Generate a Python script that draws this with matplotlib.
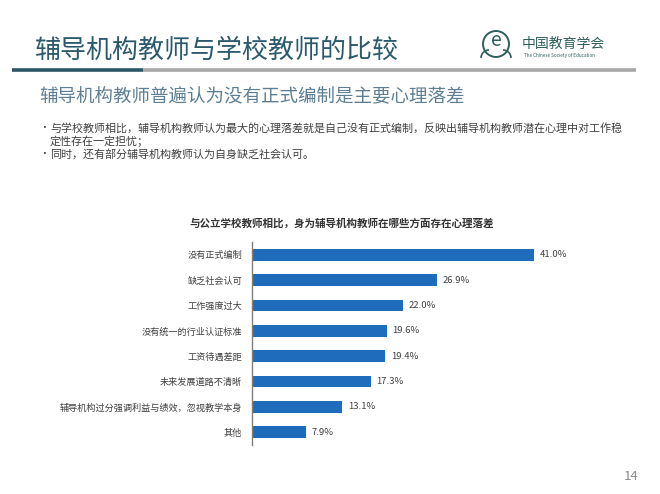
import matplotlib
matplotlib.use("Agg")
import matplotlib.pyplot as plt
from matplotlib.patches import Circle, Arc

plt.rcParams['font.family'] = ['Noto Sans CJK SC', 'DejaVu Sans']

categories = ["没有正式编制", "缺乏社会认可", "工作强度过大", "没有统一的行业认证标准",
              "工资待遇差距", "未来发展道路不清晰", "辅导机构过分强调利益与绩效，忽视教学本身", "其他"]
values = [41.0, 26.9, 22.0, 19.6, 19.4, 17.3, 13.1, 7.9]
value_labels = ["41.0%", "26.9%", "22.0%", "19.6%", "19.4%", "17.3%", "13.1%", "7.9%"]

title = "辅导机构教师与学校教师的比较"
subtitle = "辅导机构教师普遍认为没有正式编制是主要心理落差"
bullet1a = "与学校教师相比，辅导机构教师认为最大的心理落差就是自己没有正式编制，反映出辅导机构教师潜在心理中对工作稳"
bullet1b = "定性存在一定担忧；"
bullet2 = "同时，还有部分辅导机构教师认为自身缺乏社会认可。"
chart_title = "与公立学校教师相比，身为辅导机构教师在哪些方面存在心理落差"
page_no = "14"

W, H = 660, 494
fig = plt.figure(figsize=(6.6, 4.94), dpi=100)
fig.patch.set_facecolor("white")

# overlay in pixel coords
ov = fig.add_axes([0, 0, 1, 1], zorder=0)
ov.set_xlim(0, W)
ov.set_ylim(H, 0)
ov.axis("off")

title_color = "#2b5a6c"
ov.text(34, 50, title, fontsize=18.7, color=title_color, va="center", ha="left")
ov.plot([12, 143], [70, 70], color="#2e5566", lw=2.6, solid_capstyle="butt")
ov.plot([143, 636], [70, 70], color="#a8a8a8", lw=2.6, solid_capstyle="butt")
ov.text(39, 97, subtitle, fontsize=13.3, color="#5e7f93", va="center", ha="left")

txt_c = "#404040"
ov.text(39, 128, "•", fontsize=7, color=txt_c, va="center")
ov.text(50, 128, bullet1a, fontsize=7.95, color=txt_c, va="center")
ov.text(50, 141, bullet1b, fontsize=7.95, color=txt_c, va="center")
ov.text(39, 154, "•", fontsize=7, color=txt_c, va="center")
ov.text(50, 154, bullet2, fontsize=7.95, color=txt_c, va="center")

ov.text(342, 223, chart_title, fontsize=7.6, fontweight="bold", color="#333333",
        va="center", ha="center")

ov.text(631, 476, page_no, fontsize=9.5, color="#8a8a8a", va="center", ha="center")

# logo
logo_c = "#2f5e5c"
ov.add_patch(Circle((496, 44), 13, fill=False, ec=logo_c, lw=1.4))
ov.text(496, 41, "e", fontsize=14, color=logo_c, ha="center", va="center", style="italic")
ov.add_patch(Arc((489, 58), 16, 16, theta1=180, theta2=270, color=logo_c, lw=1.2))
ov.add_patch(Arc((503, 58), 16, 16, theta1=270, theta2=360, color=logo_c, lw=1.2))
ov.text(522, 44, "中国教育学会", fontsize=10, color=logo_c, va="center", ha="left")
ov.text(524, 56, "The Chinese Society of Education", fontsize=3.3, color=logo_c,
        va="center", ha="left")

# bar chart
left_px, right_px, top_px, bot_px = 252, 596, 242, 445
ax = fig.add_axes([left_px / W, 1 - bot_px / H, (right_px - left_px) / W, (bot_px - top_px) / H],
                  zorder=1)
ax.patch.set_alpha(0)
pos = list(range(len(categories)))
ax.barh(pos, values, height=0.47, color="#1f6cbc", edgecolor="none")
ax.set_xlim(0, 50)
ax.set_ylim(len(categories) - 0.49, -0.51)
ax.set_yticks(pos)
ax.set_yticklabels(categories, fontsize=6.6, color=txt_c)
ax.tick_params(axis="y", length=0, pad=7)
ax.set_xticks([])
for s in ["top", "right", "bottom"]:
    ax.spines[s].set_visible(False)
ax.spines["left"].set_color("#7f7f7f")
ax.spines["left"].set_linewidth(1.0)
for p, v, lab in zip(pos, values, value_labels):
    ax.annotate(lab, (v, p), xytext=(4, 0), textcoords="offset points",
                va="center", ha="left", fontsize=6.8, color=txt_c)

fig.savefig("out.png", dpi=100, facecolor="white")
